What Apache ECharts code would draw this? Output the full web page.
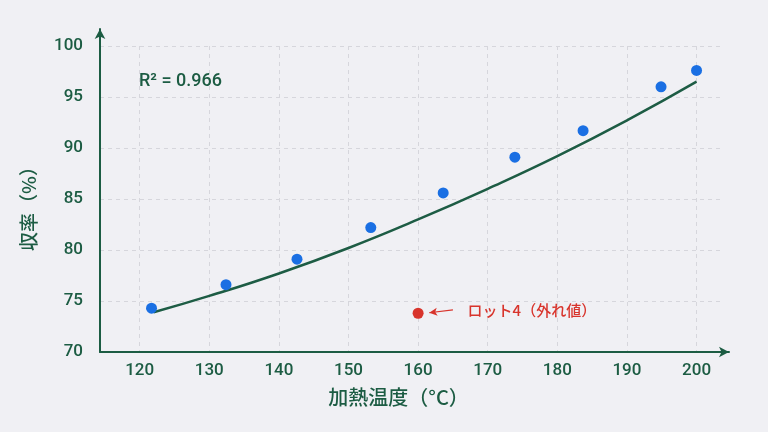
<!DOCTYPE html>
<html>
<head>
<meta charset="utf-8">
<script src="https://cdn.jsdelivr.net/npm/echarts@6/dist/echarts.min.js"></script>
<style>
  html, body { margin: 0; padding: 0; background: #f0f0f4; }
  #chart { width: 768px; height: 432px; }
</style>
</head>
<body>
<div id="chart"></div>
<script>
// 測定値
const tempValues = [121.7, 132.4, 142.6, 153.2, 163.6, 173.9, 183.7, 194.9, 200]
const yieldValues = [74.3, 76.6, 79.1, 82.2, 85.6, 89.1, 91.7, 96.0, 97.6]

// 外れ値（ロット4）
const outlierTemp = 160
const outlierYield = 73.8
const outlierLabel = 'ロット4（外れ値）'

// 近似曲線
const fitTemps = [122, 130, 140, 150, 160, 170, 180, 190, 200]
const fitYields = [73.9, 75.5, 77.7, 80.2, 83.0, 86.0, 89.2, 92.7, 96.5]

const r2Text = 'R² = 0.966'
const xName = '加熱温度（°C）'
const yName = '収率（%）'

const green = '#1c5c43'
const font = 'Roboto, "Noto Sans CJK JP", sans-serif'
const jpFont = '"Noto Sans CJK JP", sans-serif'

const chart = echarts.init(document.getElementById('chart'))

const option = {
  backgroundColor: '#f0f0f4',
  textStyle: { fontFamily: font },
  grid: [
    // プロット領域
    { left: 100, top: 46, right: 45, bottom: 80 },
    // 矢印付きの軸線用
    { left: 100, top: 29, right: 39, bottom: 80 }
  ],
  title: {
    text: r2Text,
    left: 134,
    top: 68,
    textStyle: { color: green, fontSize: 18, fontWeight: 500, fontFamily: font }
  },
  xAxis: [
    {
      type: 'value',
      gridIndex: 0,
      min: 114.3,
      max: 203.8,
      splitNumber: 9,
      name: xName,
      nameLocation: 'middle',
      nameGap: 35,
      nameTextStyle: {
        color: green, fontSize: 20, fontWeight: 500,
        fontFamily: jpFont,
        padding: [0, 26, 0, 0]
      },
      axisLine: { show: false },
      axisTick: { show: false },
      axisLabel: {
        color: green, fontSize: 17, fontWeight: 500, margin: 10,
        showMinLabel: false, showMaxLabel: false,
        formatter: v => (v % 10 === 0 ? String(v) : '')
      },
      splitLine: {
        show: true, showMinLine: false, showMaxLine: false,
        lineStyle: { color: '#d6d6dc', type: [4, 4], width: 1 }
      }
    },
    {
      type: 'value',
      gridIndex: 1,
      min: 0,
      max: 1,
      axisLine: {
        show: true,
        symbol: ['none', 'arrow'],
        symbolSize: [8, 10],
        lineStyle: { color: green, width: 2 }
      },
      axisTick: { show: false },
      axisLabel: { show: false },
      splitLine: { show: false }
    }
  ],
  yAxis: [
    {
      type: 'value',
      gridIndex: 0,
      min: 70,
      max: 100,
      interval: 5,
      name: yName,
      nameLocation: 'middle',
      nameGap: 62,
      nameRotate: 90,
      nameTextStyle: {
        color: green, fontSize: 19, fontWeight: 500,
        fontFamily: jpFont,
        padding: [0, 10, 0, 0]
      },
      axisLine: { show: false },
      axisTick: { show: false },
      axisLabel: { color: green, fontSize: 17, fontWeight: 500, margin: 17 },
      splitLine: {
        show: true, showMinLine: false,
        lineStyle: { color: '#d6d6dc', type: [4, 4], width: 1 }
      }
    },
    {
      type: 'value',
      gridIndex: 1,
      min: 0,
      max: 1,
      axisLine: {
        show: true,
        symbol: ['none', 'arrow'],
        symbolSize: [8, 10],
        lineStyle: { color: green, width: 2 }
      },
      axisTick: { show: false },
      axisLabel: { show: false },
      splitLine: { show: false }
    }
  ],
  series: [
    {
      name: 'fit',
      type: 'line',
      xAxisIndex: 0,
      yAxisIndex: 0,
      data: fitTemps.map((t, i) => [t, fitYields[i]]),
      smooth: true,
      showSymbol: false,
      lineStyle: { color: '#1d5c44', width: 2.5 },
      z: 2
    },
    {
      name: 'data',
      type: 'scatter',
      xAxisIndex: 0,
      yAxisIndex: 0,
      data: tempValues.map((t, i) => [t, yieldValues[i]]),
      symbolSize: 11,
      itemStyle: { color: '#1a6fe3', opacity: 1 },
      z: 3
    },
    {
      name: 'outlier',
      type: 'scatter',
      xAxisIndex: 0,
      yAxisIndex: 0,
      data: [[outlierTemp, outlierYield]],
      symbolSize: 11,
      itemStyle: { color: '#d8342c', opacity: 1 },
      label: {
        show: true,
        position: 'right',
        distance: 44,
        offset: [0, -3],
        formatter: outlierLabel,
        color: '#d8342c',
        fontSize: 15,
        fontWeight: 500,
        fontFamily: jpFont
      },
      markLine: {
        silent: true,
        symbol: ['none', 'arrow'],
        symbolSize: [6, 8],
        label: { show: false },
        lineStyle: { color: '#d8342c', width: 1.2, type: 'solid' },
        data: [[
          { coord: [outlierTemp + 5.0, outlierYield + 0.33] },
          { coord: [outlierTemp + 1.6, outlierYield + 0.05] }
        ]]
      },
      z: 3
    }
  ]
}

chart.setOption(option)
</script>
</body>
</html>
